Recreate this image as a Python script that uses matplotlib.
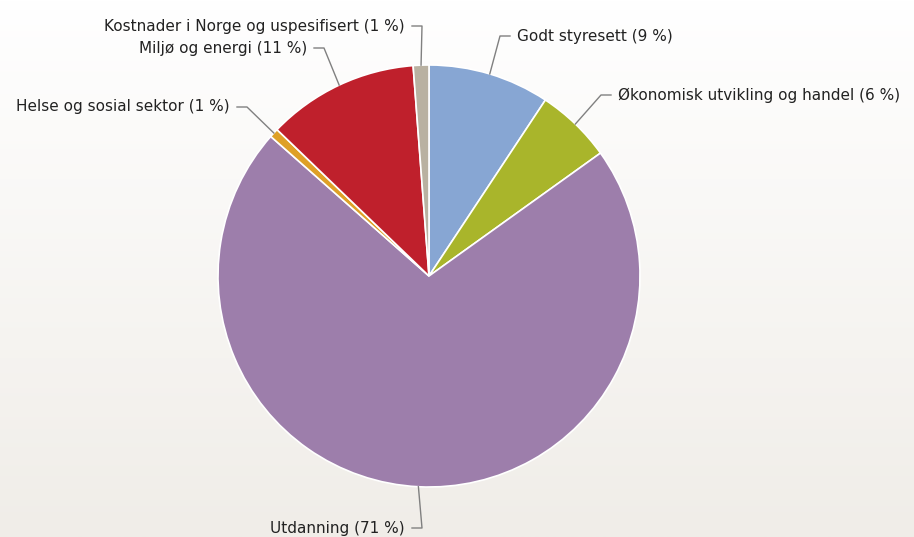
import numpy as np
import matplotlib.pyplot as plt

# data
kategorier = ["Godt styresett", "Økonomisk utvikling og handel", "Utdanning",
              "Helse og sosial sektor", "Miljø og energi",
              "Kostnader i Norge og uspesifisert"]
andeler = [9.3, 5.8, 71.4, 0.7, 11.6, 1.2]
prosent_tekst = [9, 6, 71, 1, 11, 1]
farger = ["#87a6d3", "#a9b52b", "#9d7eab", "#dea027", "#bf202c", "#b9b1a1"]

# label layout (pixels, top-left origin), +1 = text right of line, -1 = left
W, H = 914, 537
etikett_x = [517, 618, 405, 230, 307, 405]
etikett_y = [36, 95, 528, 107, 48, 26]
side = [1, 1, -1, -1, -1, -1]

senter = (429, H - 276)
radius = 211

fig = plt.figure(figsize=(W / 100, H / 100), dpi=100)
ax = fig.add_axes([0, 0, 1, 1])

# bakgrunn med svak gradient
topp = np.array([255, 255, 255]) / 255
bunn = np.array([240, 237, 232]) / 255
t = np.linspace(0, 1, 256)[:, None]
grad = (topp * (1 - t) + bunn * t)[:, None, :]
ax.imshow(grad, extent=(0, W, 0, H), aspect="auto", origin="upper", zorder=0)

wedges, _ = ax.pie(andeler, colors=farger, startangle=90, counterclock=False,
                   center=senter, radius=radius,
                   wedgeprops=dict(edgecolor="white", linewidth=1.2))
for w in wedges:
    w.set_zorder(2)

for w, navn, p, tx, ty, s in zip(wedges, kategorier, prosent_tekst,
                                 etikett_x, etikett_y, side):
    mid = np.deg2rad((w.theta1 + w.theta2) / 2)
    ax_ = senter[0] + radius * np.cos(mid)
    ay_ = senter[1] + radius * np.sin(mid)
    y = H - ty
    knekk = tx - 17 * s
    slutt = tx - 7 * s
    ax.plot([ax_, knekk, slutt], [ay_, y, y], color="#808080", lw=1, zorder=3)
    ax.text(tx, y, f"{navn} ({p} %)", ha="left" if s > 0 else "right",
            va="center", fontsize=11, color="#222222", zorder=4)

ax.set_xlim(0, W)
ax.set_ylim(0, H)
ax.set_aspect("auto")
ax.axis("off")

fig.savefig("out.png", dpi=100)
